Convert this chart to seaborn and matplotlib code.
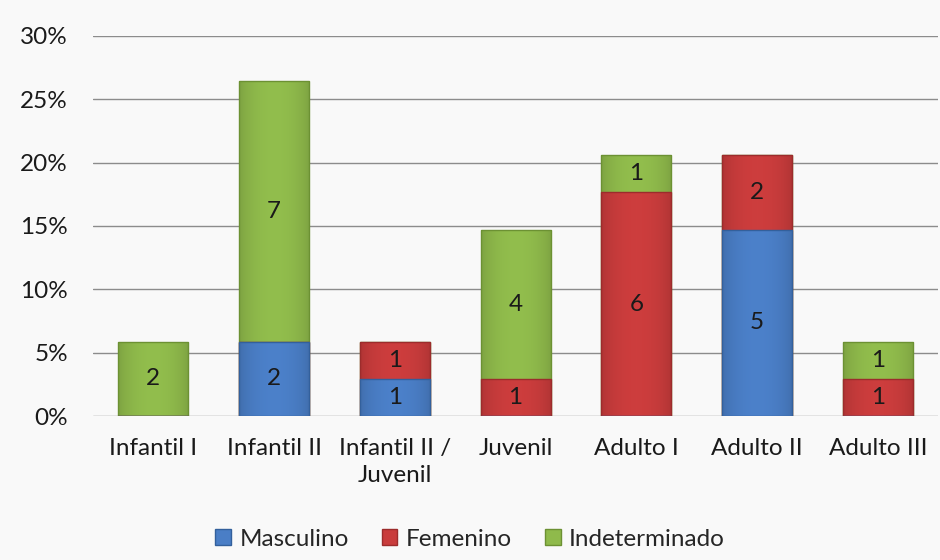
import numpy as np
import pandas as pd
import matplotlib
matplotlib.use("Agg")
import matplotlib.pyplot as plt
import matplotlib.colors as mcolors
import seaborn as sns

categories = ["Infantil I", "Infantil II", "Infantil II /\nJuvenil", "Juvenil",
              "Adulto I", "Adulto II", "Adulto III"]
masculino = [0, 2, 1, 0, 0, 5, 0]
femenino = [0, 0, 1, 1, 6, 2, 1]
indeterminado = [2, 7, 0, 4, 1, 0, 1]
series_names = ["Masculino", "Femenino", "Indeterminado"]
yticks = [0, 5, 10, 15, 20, 25, 30]

colors = {"Masculino": "#4a7ec6", "Femenino": "#c93c3c", "Indeterminado": "#8fba4b"}
edges = {"Masculino": "#33609c", "Femenino": "#9c2c2c", "Indeterminado": "#6c9133"}

sns.set_theme(style="white")
plt.rcParams["font.family"] = ["Lato", "DejaVu Sans"]
FS = 17.5

total = sum(masculino) + sum(femenino) + sum(indeterminado)
counts = np.array([masculino, femenino, indeterminado], dtype=float)
pct = counts / total * 100
cum = np.cumsum(pct, axis=0)

fig = plt.figure(figsize=(9.4, 5.6), dpi=100, facecolor="#f9f9f9")
ax = fig.add_axes([0.099, 0.257, 0.899, 0.679])
ax.set_facecolor("#f9f9f9")

# horizontal shading profile for the bevelled bar look
xs = np.linspace(0, 1, 64)
profile = 0.86 + 0.16 * np.sin(np.pi * xs) ** 0.6

# stacked bars: draw cumulative heights from the top series down
for k, i in enumerate(range(2, -1, -1)):
    name = series_names[i]
    df = pd.DataFrame({"cat": categories, "val": cum[i]})
    n_before = len(ax.patches)
    sns.barplot(data=df, x="cat", y="val", ax=ax, color=colors[name],
                width=0.58, saturation=1, edgecolor=edges[name], linewidth=1.0)
    base = np.array(mcolors.to_rgb(colors[name]))
    grad = np.clip(base[None, None, :] * profile[None, :, None], 0, 1)
    for p in ax.patches[n_before:]:
        z = 2 + k
        p.set_zorder(z + 0.5)
        p.set_facecolor("none")
        if p.get_height() <= 0:
            continue
        x0, y0 = p.get_x(), p.get_y()
        im = ax.imshow(grad, extent=(x0, x0 + p.get_width(), y0, y0 + p.get_height()),
                       aspect="auto", origin="lower", zorder=z, interpolation="bilinear")
        im.set_clip_path(p)

# segment count labels
for i in range(3):
    for j in range(len(categories)):
        if counts[i, j] > 0:
            mid = cum[i, j] - pct[i, j] / 2
            ax.text(j, mid, f"{int(counts[i, j])}", ha="center", va="center",
                    fontsize=FS, color="#1a1a1a", zorder=10)

ax.set_ylim(0, 30)
ax.set_xlim(-0.5, len(categories) - 0.5)
ax.set_yticks(yticks)
ax.set_yticklabels([f"{t}%" for t in yticks])
for t in yticks:
    ax.axhline(t, color="#8c8c8c", linewidth=1.0, zorder=1)
ax.set_xlabel("")
ax.set_ylabel("")
for s in ax.spines.values():
    s.set_visible(False)
ax.tick_params(axis="both", labelsize=FS, colors="#1a1a1a", length=0)
ax.tick_params(axis="y", pad=18)
ax.tick_params(axis="x", pad=16)
for lbl in ax.get_xticklabels():
    lbl.set_linespacing(1.35)

handles = [plt.Rectangle((0, 0), 1, 1, facecolor=colors[n], edgecolor=edges[n])
           for n in series_names]
fig.legend(handles, series_names, loc="center", bbox_to_anchor=(0.5, 0.0375),
           ncol=3, frameon=False, fontsize=FS, handlelength=0.65, handleheight=0.6,
           handletextpad=0.35, columnspacing=1.35)

fig.savefig("out.png", dpi=100, facecolor=fig.get_facecolor())
